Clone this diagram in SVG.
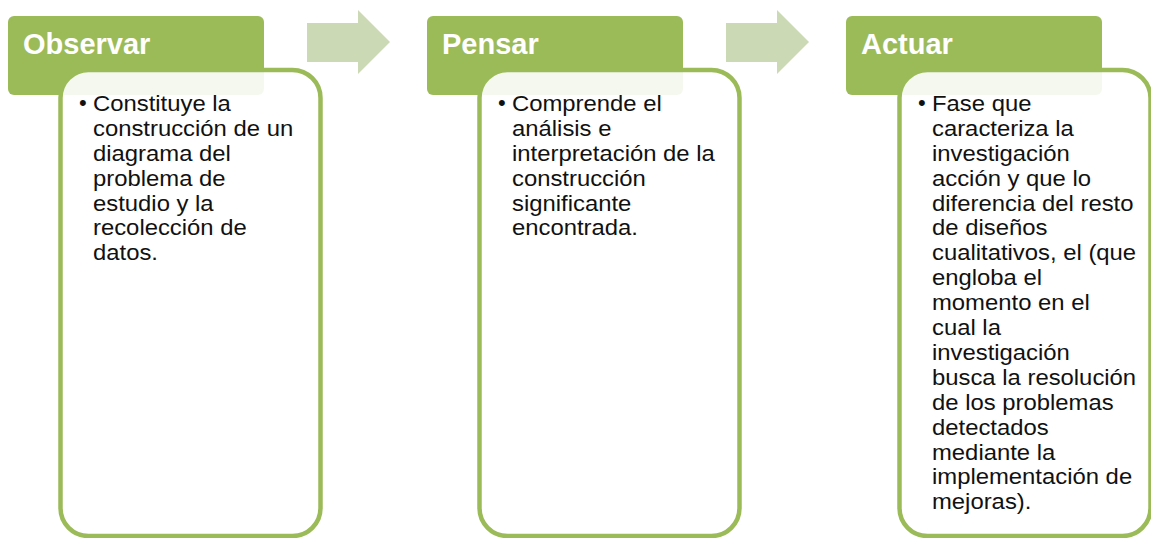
<svg xmlns="http://www.w3.org/2000/svg" width="1151" height="538" viewBox="0 0 1151 538">
<style>
.hdr{fill:#9BBB59;}
.body{fill:#ffffff;fill-opacity:0.9;stroke:#9BBB59;stroke-width:4.5;}
.arrow{fill:#CBDAB4;}
.ht{font-family:"Liberation Sans",Arial,sans-serif;font-weight:bold;font-size:29px;fill:#ffffff;}
.bt{font-family:"Liberation Sans",Arial,sans-serif;font-size:22.3px;fill:#111111;}
.bul{font-family:"Liberation Sans",Arial,sans-serif;font-size:22px;fill:#111111;}
</style>
<rect width="1151" height="538" fill="#ffffff"/>
<g id="connectors">
<polygon class="arrow" points="307,23 358,23 358,10 390,42 358,74 358,62 307,62"/>
<polygon class="arrow" points="726,23 777,23 777,10 809,42 777,74 777,62 726,62"/>
</g>
<g id="observar">
<rect class="hdr" x="8" y="16" width="256" height="79" rx="6"/>
<text class="ht" x="23" y="54">Observar</text>
<rect class="body" x="60.5" y="70" width="260" height="466" rx="28"/>
<text class="bul" x="79" y="110">•</text>
<text class="bt" transform="translate(93,111) scale(1.07,1)"><tspan x="0" y="0">Constituye la</tspan><tspan x="0" dy="24.9">construcción de un</tspan><tspan x="0" dy="24.9">diagrama del</tspan><tspan x="0" dy="24.9">problema de</tspan><tspan x="0" dy="24.9">estudio y la</tspan><tspan x="0" dy="24.9">recolección de</tspan><tspan x="0" dy="24.9">datos.</tspan></text>
</g>
<g id="pensar">
<rect class="hdr" x="427" y="16" width="256" height="79" rx="6"/>
<text class="ht" x="442" y="54">Pensar</text>
<rect class="body" x="479.5" y="70" width="260" height="466" rx="28"/>
<text class="bul" x="498" y="110">•</text>
<text class="bt" transform="translate(512,111) scale(1.07,1)"><tspan x="0" y="0">Comprende el</tspan><tspan x="0" dy="24.9">análisis e</tspan><tspan x="0" dy="24.9">interpretación de la</tspan><tspan x="0" dy="24.9">construcción</tspan><tspan x="0" dy="24.9">significante</tspan><tspan x="0" dy="24.9">encontrada.</tspan></text>
</g>
<g id="actuar">
<rect class="hdr" x="846" y="16" width="256" height="79" rx="6"/>
<text class="ht" x="861" y="54">Actuar</text>
<rect class="body" x="899.5" y="70" width="251" height="466" rx="28"/>
<text class="bul" x="918" y="110">•</text>
<text class="bt" transform="translate(932,111) scale(1.07,1)"><tspan x="0" y="0">Fase que</tspan><tspan x="0" dy="24.9">caracteriza la</tspan><tspan x="0" dy="24.9">investigación</tspan><tspan x="0" dy="24.9">acción y que lo</tspan><tspan x="0" dy="24.9">diferencia del resto</tspan><tspan x="0" dy="24.9">de diseños</tspan><tspan x="0" dy="24.9">cualitativos, el (que</tspan><tspan x="0" dy="24.9">engloba el</tspan><tspan x="0" dy="24.9">momento en el</tspan><tspan x="0" dy="24.9">cual la</tspan><tspan x="0" dy="24.9">investigación</tspan><tspan x="0" dy="24.9">busca la resolución</tspan><tspan x="0" dy="24.9">de los problemas</tspan><tspan x="0" dy="24.9">detectados</tspan><tspan x="0" dy="24.9">mediante la</tspan><tspan x="0" dy="24.9">implementación de</tspan><tspan x="0" dy="24.9">mejoras).</tspan></text>
</g>
</svg>
